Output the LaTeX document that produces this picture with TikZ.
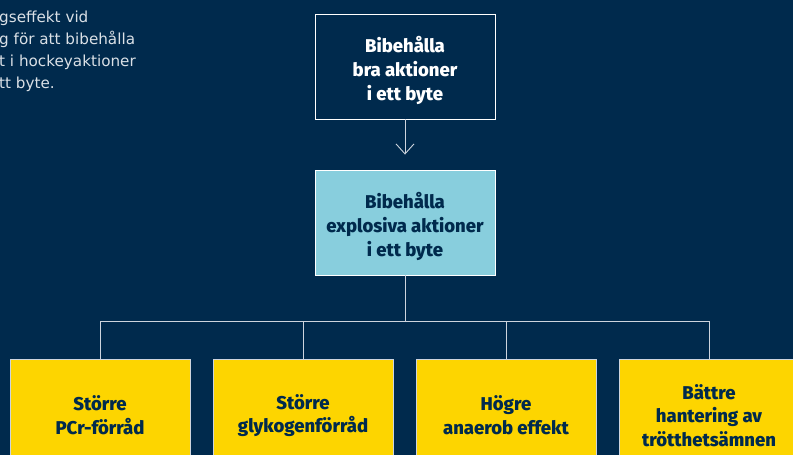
\documentclass[tikz,border=0pt]{standalone}
\usepackage{fontspec}
\setmainfont{DejaVu Sans}
\newfontfamily\heavyfont{Fira Sans ExtraBold}
\usetikzlibrary{arrows.meta,positioning}

\definecolor{navy}{RGB}{0,42,77}
\definecolor{gold}{RGB}{253,213,0}
\definecolor{skyblue}{RGB}{136,206,221}
\definecolor{wire}{RGB}{205,212,222}
\definecolor{greytext}{RGB}{218,224,230}

\tikzset{
	box/.style={rectangle, draw=white, line width=0.9pt, minimum width=180pt, minimum height=105pt, inner sep=0pt},
	boxtext/.style={align=center, font=\heavyfont\fontsize{18.5}{23.7}\selectfont, inner sep=0pt, yshift=-4pt},
	topbox/.style={box, fill=navy, label={[boxtext, text=white]center:{#1}}},
	midbox/.style={box, fill=skyblue, label={[boxtext, text=navy]center:{#1}}},
	leafbox/.style={box, draw=wire, fill=gold, label={[boxtext, text=navy]center:{#1}}},
	wire/.style={draw=wire, line width=0.9pt}
}

\begin{document}
\begin{tikzpicture}[x=1pt, y=-1pt]
		\useasboundingbox (0,0) rectangle (793,455);
		\clip (0,0) rectangle (793,455);
		\fill [navy] (0,0) rectangle (793,455);

		\node [anchor=north west, align=left, inner sep=0pt, text=greytext,
			font=\fontsize{15.2}{21.8}\selectfont] (intro) at (-1,11)
			{gseffekt vid\\g för att bibehålla\\t i hockeyaktioner\\tt byte.};

		\draw (405,66.5) node [topbox={Bibehålla\\bra aktioner\\i ett byte}] (top) {};
		\draw (405,222.5) node [midbox={Bibehålla\\explosiva aktioner\\i ett byte}] (mid) {};

		\draw (100,411.5) node [leafbox={Större\\PCr-förråd}] (pcr) {};
		\draw (303,411.5) node [leafbox={Större\\glykogenförråd}] (glyk) {};
		\draw (506,411.5) node [leafbox={Högre\\anaerob effekt}] (anaerob) {};
		\draw (709,411.5) node [leafbox={Bättre\\hantering av\\trötthetsämnen}] (trott) {};

		\coordinate (bus) at (405,321);

		\draw [wire, -{Straight Barb[length=10pt, width=18pt, line width=0.9pt]}, shorten >=15pt]
			(top) -- (mid);
		\draw [wire] (mid) -- (bus);
		\draw [wire]
		(bus) -| (pcr.north)
		(bus) -| (glyk.north)
		(bus) -| (anaerob.north)
		(bus) -| (trott.north);
	\end{tikzpicture}
\end{document}
